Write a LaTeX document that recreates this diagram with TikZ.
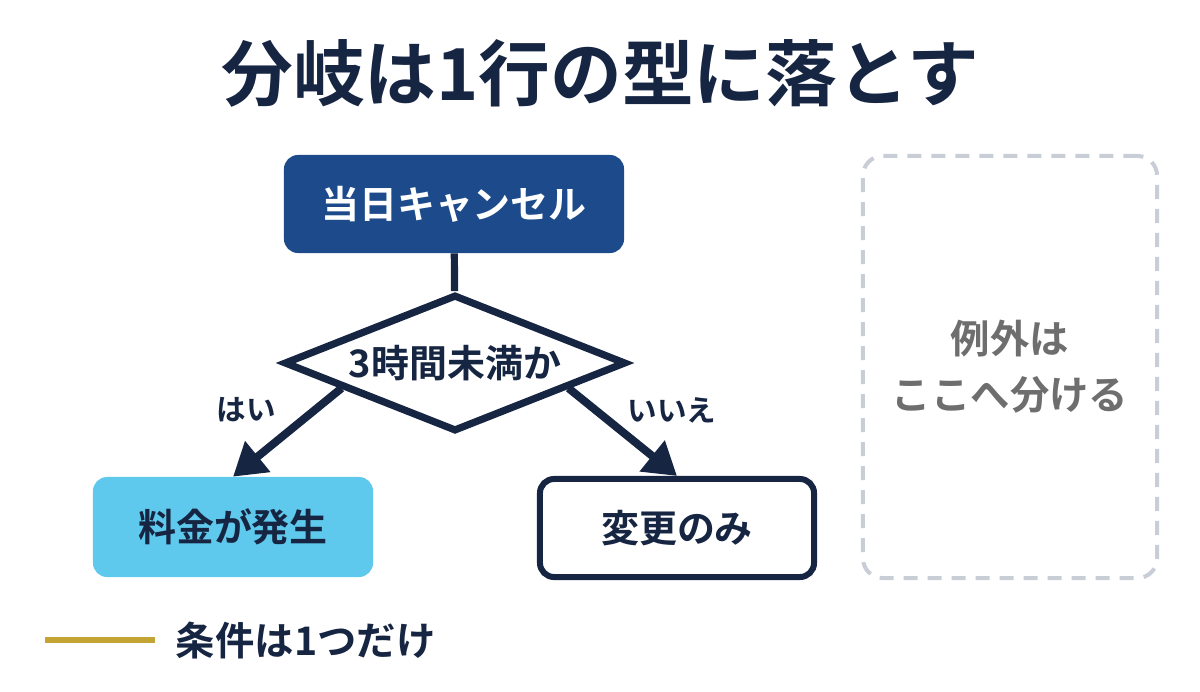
\documentclass[tikz,border=0pt]{standalone}
\usepackage{fontspec}
\setmainfont{Noto Sans CJK JP}[BoldFont={Noto Sans CJK JP Bold}]
\usetikzlibrary{shapes.geometric,arrows.meta,positioning,calc}
\definecolor{slideNavy}{RGB}{22, 37, 66}
\definecolor{slideBlue}{RGB}{28, 74, 138}
\definecolor{slideSky}{RGB}{94, 201, 236}
\definecolor{slideGray}{RGB}{200, 205, 214}
\definecolor{slideText}{RGB}{110, 110, 110}
\definecolor{slideGold}{RGB}{196, 164, 52}
\tikzset{
  box/.style={rounded corners=10pt, minimum width=8.5cm, minimum height=2.5cm, font=\bfseries\fontsize{27}{32}\selectfont, text=slideNavy},
  arr/.style={draw=slideNavy, line width=0.2cm, -{Triangle[length=0.8cm, width=0.95cm]}}
}
\begin{document}
\begin{tikzpicture}[x=0.025cm, y=-0.025cm]
            \useasboundingbox (0,0) rectangle (1200,691);
            % Title
            \node[text=slideNavy, font=\bfseries\fontsize{51}{58}\selectfont] (title) at (600,73) {分岐は1行の型に落とす};

            % Start
            \node[box, fill=slideBlue, text=white, minimum width=8.5cm, minimum height=2.45cm] (start) at (454,204) {当日キャンセル};

            % Decision
            \node[draw=slideNavy, line width=0.18cm, fill=white, diamond, aspect=2.5, inner sep=0pt, minimum width=8.55cm, minimum height=3.42cm, font=\bfseries\fontsize{27}{32}\selectfont, text=slideNavy] (check) at (455,363) {3時間未満か};
            \draw[draw=slideNavy, line width=0.18cm] (start) -- (check);

            % Outcomes
            \node[box, fill=slideSky, minimum width=7cm, minimum height=2.5cm] (fee) at (233,527) {料金が発生};
            \node[box, draw=slideNavy, line width=0.15cm, fill=white, minimum width=6.85cm, minimum height=2.45cm] (change) at (677,528) {変更のみ};
            \draw[arr] ($(check.west)!0.35!(check.south)$) -- (fee.north);
            \draw[arr] ($(check.east)!0.35!(check.south)$) -- (change.north);
            \node[font=\bfseries\fontsize{21}{24}\selectfont, text=slideNavy] (yes) at (246,410) {はい};
            \node[font=\bfseries\fontsize{21}{24}\selectfont, text=slideNavy] (no) at (672,410) {いいえ};

            % Exceptions
            \node[draw=slideGray, line width=0.1cm, dash pattern=on 0.35cm off 0.25cm, rounded corners=14pt, minimum width=7.35cm, minimum height=10.55cm, align=center, font=\bfseries\fontsize{28}{40}\selectfont, text=slideText] (other) at (1010,367) {例外は\\ここへ分ける};

            % Legend
            \draw[draw=slideGold, line width=0.15cm] (45,640) -- (155,640) coordinate (key);
            \node[right=0.4cm of key, font=\bfseries\fontsize{28}{32}\selectfont, text=slideNavy] (keytext) {条件は1つだけ};
\end{tikzpicture}
\end{document}
